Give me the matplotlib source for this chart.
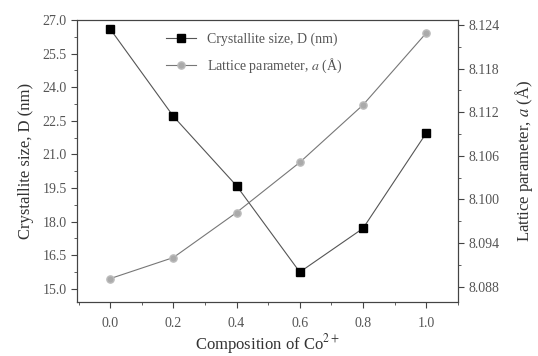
import matplotlib.pyplot as plt
from matplotlib.ticker import MultipleLocator, AutoMinorLocator

# ---- DATA ----
composition = [0.0, 0.2, 0.4, 0.6, 0.8, 1.0]
crystallite_size = [26.6, 22.7, 19.6, 15.75, 17.7, 21.95]
lattice_param = [8.0891, 8.0920, 8.0982, 8.1051, 8.1130, 8.1229]

plt.rcParams['font.family'] = ['Liberation Serif', 'DejaVu Serif']
plt.rcParams['mathtext.fontset'] = 'stix'
txt = '#333333'
lbl = '#555555'

fig = plt.figure(figsize=(5.38, 3.56), dpi=100)
ax = fig.add_axes([0.143, 0.152, 0.708, 0.792])
ax2 = ax.twinx()

l1, = ax.plot(composition, crystallite_size, color='#555555', linewidth=0.8,
              marker='s', markersize=5.2, markerfacecolor='black', markeredgecolor='black',
              label='Crystallite size, D (nm)')
l2, = ax2.plot(composition, lattice_param, color='#777777', linewidth=0.8,
               marker='o', markersize=5.2, markerfacecolor='#aaaaaa', markeredgecolor='#bbbbbb',
               label='Lattice parameter, $a$ (Å)')

ax.set_xlim(-0.105, 1.1)
ax.set_ylim(14.42, 27.0)
ax2.set_ylim(8.0859, 8.1247)

ax.xaxis.set_major_locator(MultipleLocator(0.2))
ax.xaxis.set_minor_locator(AutoMinorLocator(2))
ax.yaxis.set_major_locator(MultipleLocator(1.5))
ax.yaxis.set_minor_locator(AutoMinorLocator(2))
ax2.yaxis.set_major_locator(MultipleLocator(0.006))
ax2.yaxis.set_minor_locator(AutoMinorLocator(2))

ax.xaxis.set_major_formatter(plt.FormatStrFormatter('%.1f'))
ax.yaxis.set_major_formatter(plt.FormatStrFormatter('%.1f'))
ax2.yaxis.set_major_formatter(plt.FormatStrFormatter('%.3f'))

for a in (ax, ax2):
    a.tick_params(which='major', direction='out', length=4, width=0.8,
                  labelsize=10, labelcolor=lbl, color='#444444')
    a.tick_params(which='minor', direction='out', length=2, width=0.6, color='#444444')
    for s in a.spines.values():
        s.set_color('#444444')
        s.set_linewidth(0.8)
ax.tick_params(axis='x', pad=7)

ax.set_xlabel('Composition of Co$^{\\mathrm{2+}}$', fontsize=12, color=txt, labelpad=1)
ax.set_ylabel('Crystallite size, D (nm)', fontsize=12, color=txt, labelpad=6)
ax2.set_ylabel('Lattice parameter, $a$ (Å)', fontsize=12, color=txt, labelpad=10)

leg = ax.legend(handles=[l1, l2], loc='upper left', bbox_to_anchor=(0.2, 1.0),
                frameon=False, fontsize=10, handlelength=2.2, labelspacing=0.75)
for t in leg.get_texts():
    t.set_color(lbl)

fig.savefig('out.png', dpi=100)
